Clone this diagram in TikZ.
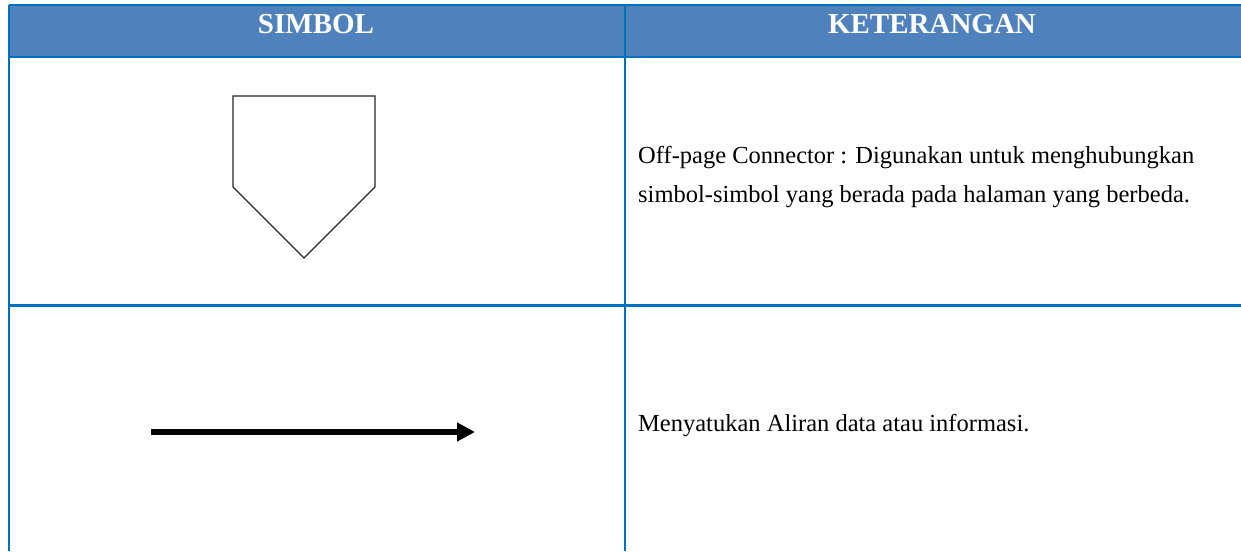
\documentclass[tikz,border=0pt]{standalone}
\usepackage{fontspec}
\setmainfont{Liberation Serif}
\usetikzlibrary{
    arrows.meta,
    positioning
}
\definecolor{headblue}{RGB}{79,129,189}
\definecolor{ruleblue}{RGB}{0,112,192}
\tikzset{
    tablerule/.style = {
        draw = ruleblue,
        line width = 2.6pt
    },
    headtext/.style = {
        text = white,
        inner sep = 0pt,
        anchor = base,
        font = \fontsize{29}{33}\selectfont\bfseries
    },
    bodytext/.style = {
        inner sep = 0pt,
        anchor = base west,
        font = \fontsize{24.5}{30}\selectfont
    },
    outline/.style = {
        draw = black!85,
        line width = 1.2pt,
        line join = miter
    },
    flow/.style = {
        line width = 6pt,
        -{Triangle[length=18pt, width=18pt]}
    }
}

\begin{document}
\begin{tikzpicture}[x = 1pt, y = -1pt]
    \useasboundingbox (0,0) rectangle (1241,551);

    % header band
    \fill[headblue] (9,5) rectangle (1241,57);
    \node[headtext] (simbol) at (316,34) {SIMBOL};
    \node[headtext] (keterangan) at (932,34) {KETERANGAN};

    % grid
    \draw[tablerule] (9,5) -- (1241,5);
    \draw[tablerule] (9,57) -- (1241,57);
    \draw[tablerule] (9,305.5) -- (1241,305.5);
    \draw[tablerule] (9,5) -- (9,551);
    \draw[tablerule] (625,5) -- (625,551);

    % off-page connector
    \coordinate (topleft) at (233,96);
    \coordinate (topright) at (375,96);
    \coordinate (sideright) at (375,187);
    \coordinate (tip) at (304,258);
    \coordinate (sideleft) at (233,187);
    \draw[outline] (topleft) -- (topright) -- (sideright) -- (tip) -- (sideleft) -- cycle;

    \node[bodytext] (offpage) at (638,163) {Off-page Connector : Digunakan untuk menghubungkan};
    \node[bodytext, below = 39pt of offpage.base west, anchor = base west] (offpage2) {simbol-simbol yang berada pada halaman yang berbeda.};

    % flow line
    \coordinate (flowstart) at (151,432);
    \coordinate (flowend) at (475,432);
    \draw[flow] (flowstart) -- (flowend);

    \node[bodytext] (flowtext) at (638,431) {Menyatukan Aliran data atau informasi.};
\end{tikzpicture}
\end{document}
